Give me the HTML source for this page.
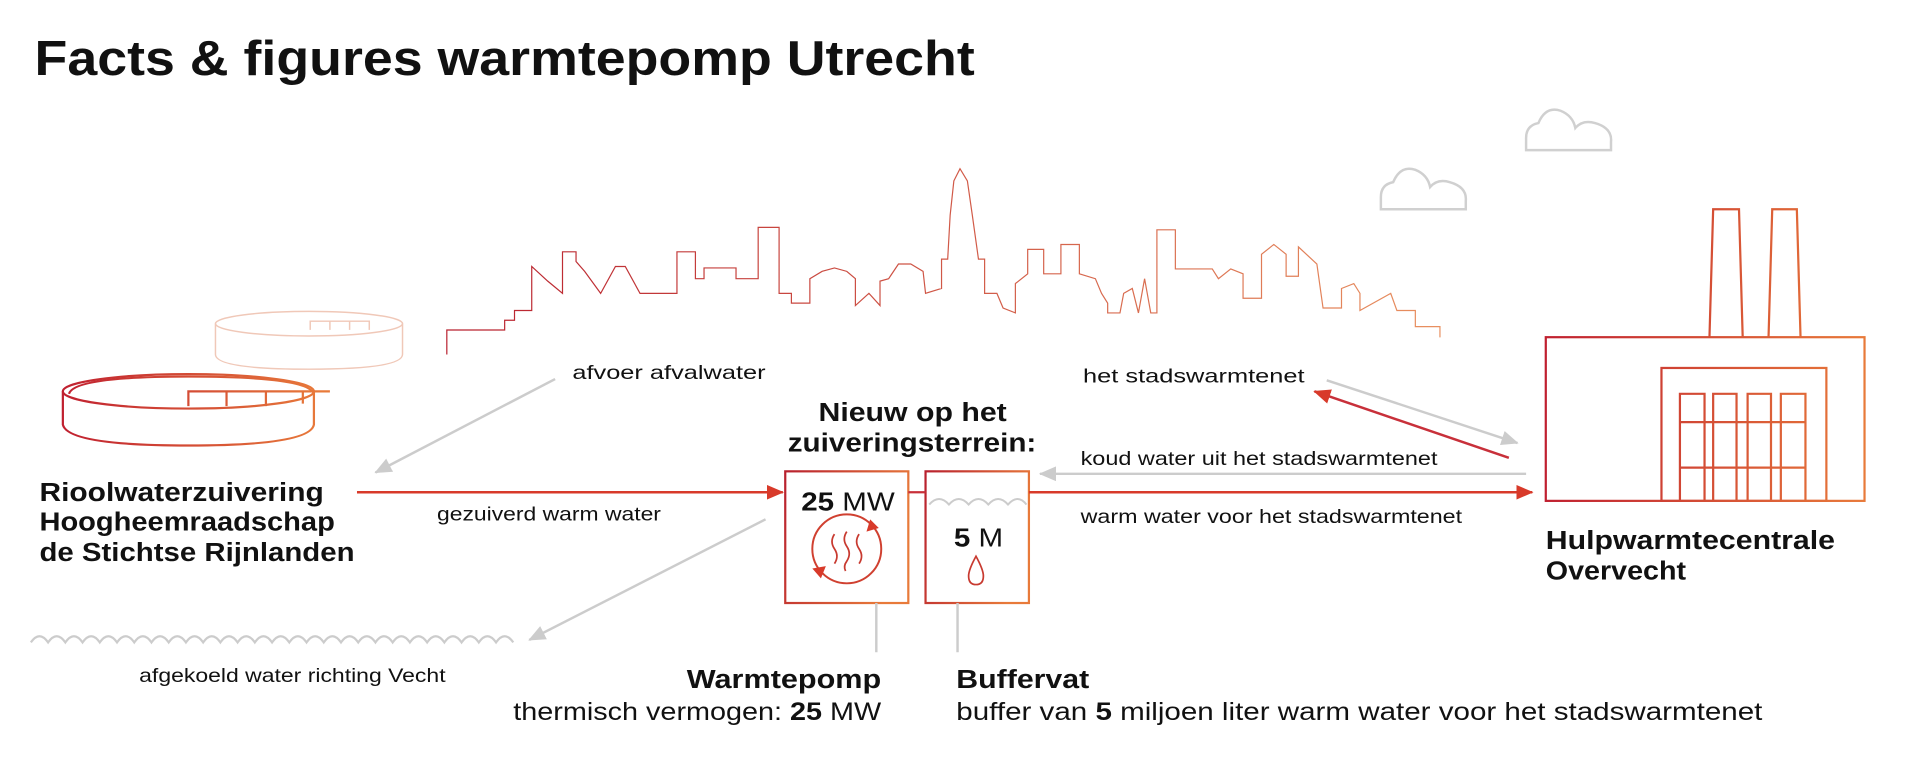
<!DOCTYPE html>
<html><head><meta charset="utf-8"><style>
html,body{margin:0;padding:0;background:#fff;}
svg{display:block}
text{font-family:"Liberation Sans",sans-serif;fill:#111}
.b{font-weight:bold}
</style></head><body>
<svg width="1920" height="763" viewBox="0 0 1560 620" xmlns="http://www.w3.org/2000/svg">
<defs>
<linearGradient id="g" x1="0" y1="0" x2="1" y2="0.3"><stop offset="0" stop-color="#b8202e"/><stop offset="1" stop-color="#e87a3a"/></linearGradient>
<linearGradient id="gs" gradientUnits="userSpaceOnUse" x1="363" y1="0" x2="1170" y2="0"><stop offset="0" stop-color="#b8202e"/><stop offset="1" stop-color="#e89060"/></linearGradient>
<linearGradient id="gf" gradientUnits="userSpaceOnUse" x1="1256" y1="0" x2="1515" y2="0"><stop offset="0" stop-color="#c02030"/><stop offset="1" stop-color="#e87a3a"/></linearGradient>
<linearGradient id="gt" gradientUnits="userSpaceOnUse" x1="50" y1="0" x2="260" y2="0"><stop offset="0" stop-color="#c02030"/><stop offset="1" stop-color="#e87a3a"/></linearGradient>
<marker id="ag" markerWidth="14" markerHeight="12" refX="13" refY="6" orient="auto" markerUnits="userSpaceOnUse"><path d="M0,0 L14,6 L0,12z" fill="#ccc"/></marker>
<marker id="ar2" markerWidth="14" markerHeight="12" refX="13" refY="6" orient="auto" markerUnits="userSpaceOnUse"><path d="M0,0 L14,6 L0,12z" fill="#d83a2a"/></marker>
</defs>

<text x="28" y="61" class="b" font-size="40" textLength="764" lengthAdjust="spacingAndGlyphs">Facts &amp; figures warmtepomp Utrecht</text>

<!-- skyline -->
<g transform="scale(1,0.3973)">
<polyline fill="none" stroke="url(#gs)" stroke-width="1.2" vector-effect="non-scaling-stroke" points="363,725 363,675 410,675 410,655 418,655 418,635 432,635 432,545 445,575 457,600 457,515 468,515 468,535 475,555 488,600 500,545 508,545 520,600 550,600 550,515 565,515 565,570 572,570 572,548 598,548 598,570 616,570 616,465 633,465 633,600 643,600 643,620 658,620 658,570 668,555 678,548 688,555 695,570 695,625 706,600 715,625 715,575 722,570 730,540 740,540 750,555 752,600 765,590 765,530 770,530 772,440 775,370 780,345 786,370 790,440 795,530 800,530 800,600 810,600 815,630 825,640 825,580 835,560 835,510 848,510 848,560 862,560 862,500 877,500 877,560 890,570 895,600 900,620 900,640 910,640 913,600 920,590 925,640 930,570 935,640 940,640 940,470 955,470 955,550 985,550 990,570 1000,550 1010,560 1010,610 1025,610 1025,520 1035,500 1045,520 1045,565 1055,565 1055,505 1070,540 1075,630 1090,630 1090,590 1100,580 1105,600 1105,635 1130,600 1135,635 1150,635 1150,668 1170,668 1170,690"/>
</g>

<!-- clouds -->
<g fill="none" stroke="#d0d0d0" stroke-width="2">
<path d="M1122,170 L1122,160 Q1122,150 1132,148 Q1138,134 1150,138 Q1160,142 1162,152 Q1168,145 1178,148 Q1192,152 1191,163 L1191,170 Z"/>
<path d="M1240,122 L1240,112 Q1240,102 1250,100 Q1256,86 1268,90 Q1278,94 1280,104 Q1286,97 1296,100 Q1310,104 1309,115 L1309,122 Z"/>
</g>

<!-- ghost tank -->
<g fill="none" stroke="#f0c8b8" stroke-width="1.2">
<ellipse cx="251" cy="263" rx="76" ry="10"/>
<path d="M175,263 L175,288 Q175,300 251,300 Q327,300 327,288 L327,263"/>
<path d="M252,268 L252,261 L300,261 L300,268 M268,261 L268,268 M284,261 L284,268"/>
</g>

<!-- main tank -->
<g fill="none" stroke="url(#gt)" stroke-width="1.8">
<ellipse cx="153" cy="318" rx="102" ry="14"/>
<path d="M56,320 Q60,306 153,306 Q250,306 255,320"/>
<path d="M51,318 L51,345 Q55,362 153,362 Q252,362 255,345 L255,318"/>
<path d="M153,330 L153,318 L235,318 M184,318 L184,330 M216,318 L216,330 M246,318 L246,328 M235,318 L268,318"/>
</g>

<!-- left labels -->
<text x="32" y="407" class="b" font-size="21" textLength="231" lengthAdjust="spacingAndGlyphs">Rioolwaterzuivering</text>
<text x="32" y="431" class="b" font-size="21" textLength="240" lengthAdjust="spacingAndGlyphs">Hoogheemraadschap</text>
<text x="32" y="456" class="b" font-size="21" textLength="256" lengthAdjust="spacingAndGlyphs">de Stichtse Rijnlanden</text>

<line x1="290" y1="400" x2="636" y2="400" stroke="#d83a2a" stroke-width="2" marker-end="url(#ar2)"/>
<text x="355" y="423" font-size="16" textLength="182" lengthAdjust="spacingAndGlyphs">gezuiverd warm water</text>

<line x1="451" y1="308" x2="305" y2="384" stroke="#ccc" stroke-width="2" marker-end="url(#ag)"/>
<text x="465" y="308" font-size="16" textLength="157" lengthAdjust="spacingAndGlyphs">afvoer afvalwater</text>

<line x1="622" y1="422" x2="430" y2="520" stroke="#ccc" stroke-width="2" marker-end="url(#ag)"/>
<path d="M25,522 q7,-10 14,0 q7,-10 14,0 q7,-10 14,0 q7,-10 14,0 q7,-10 14,0 q7,-10 14,0 q7,-10 14,0 q7,-10 14,0 q7,-10 14,0 q7,-10 14,0 q7,-10 14,0 q7,-10 14,0 q7,-10 14,0 q7,-10 14,0 q7,-10 14,0 q7,-10 14,0 q7,-10 14,0 q7,-10 14,0 q7,-10 14,0 q7,-10 14,0 q7,-10 14,0 q7,-10 14,0 q7,-10 14,0 q7,-10 14,0 q7,-10 14,0 q7,-10 14,0 q7,-10 14,0 q7,-10 14,0" fill="none" stroke="#ccc" stroke-width="1.8"/>
<text x="113" y="554" font-size="16" textLength="249" lengthAdjust="spacingAndGlyphs">afgekoeld water richting Vecht</text>

<!-- center -->
<text x="665" y="342" class="b" font-size="21" textLength="153" lengthAdjust="spacingAndGlyphs">Nieuw op het</text>
<text x="640" y="367" class="b" font-size="21" textLength="202" lengthAdjust="spacingAndGlyphs">zuiveringsterrein:</text>

<rect x="638" y="383" width="100" height="107" fill="none" stroke="url(#g)" stroke-width="1.8"/>
<rect x="752" y="383" width="84" height="107" fill="none" stroke="url(#g)" stroke-width="1.8"/>
<line x1="738" y1="400" x2="752" y2="400" stroke="#c8303a" stroke-width="1.8"/>
<text x="651" y="415" font-size="21" textLength="76" lengthAdjust="spacingAndGlyphs"><tspan class="b">25</tspan> MW</text>
<circle cx="688" cy="446" r="28" fill="none" stroke="#d04030" stroke-width="1.6"/>
<path d="M707,422 L714,429 L704,432z M667,470 L660,462 L671,460z" fill="#d83a2a"/>
<g fill="none" stroke="#c83a30" stroke-width="1.4">
<path d="M678,434 q-4,6 0,12 q4,6 0,12"/><path d="M688,432 q-4,6 0,12 q4,6 0,12 q-3,4 -1,8"/><path d="M698,434 q-4,6 0,12 q4,6 0,12"/>
</g>
<path d="M755,410 q8,-9 16,0 q8,-9 16,0 q8,-9 16,0 q8,-9 16,0 q8,-9 15,0" fill="none" stroke="#ccc" stroke-width="1.6"/>
<text x="775" y="444" font-size="21" textLength="40" lengthAdjust="spacingAndGlyphs"><tspan class="b">5</tspan> M</text>
<path d="M793,452 Q787,463 787,468 Q787,475 793,475 Q799,475 799,468 Q799,463 793,452z" fill="none" stroke="#c83a30" stroke-width="1.4"/>

<line x1="712" y1="490" x2="712" y2="530" stroke="#ccc" stroke-width="2"/>
<line x1="778" y1="490" x2="778" y2="530" stroke="#ccc" stroke-width="2"/>
<text x="558" y="559" class="b" font-size="21" textLength="158" lengthAdjust="spacingAndGlyphs">Warmtepomp</text>
<text x="417" y="585" font-size="20" textLength="299" lengthAdjust="spacingAndGlyphs">thermisch vermogen: <tspan class="b">25</tspan> MW</text>
<text x="777" y="559" class="b" font-size="21" textLength="108" lengthAdjust="spacingAndGlyphs">Buffervat</text>
<text x="777" y="585" font-size="20" textLength="655" lengthAdjust="spacingAndGlyphs">buffer van <tspan class="b">5</tspan> miljoen liter warm water voor het stadswarmtenet</text>

<!-- right arrows -->
<line x1="836" y1="400" x2="1245" y2="400" stroke="#d83a2a" stroke-width="2" marker-end="url(#ar2)"/>
<line x1="1240" y1="385" x2="845" y2="385" stroke="#ccc" stroke-width="2" marker-end="url(#ag)"/>
<text x="878" y="378" font-size="16" textLength="290" lengthAdjust="spacingAndGlyphs">koud water uit het stadswarmtenet</text>
<text x="878" y="425" font-size="16" textLength="310" lengthAdjust="spacingAndGlyphs">warm water voor het stadswarmtenet</text>
<text x="880" y="311" font-size="16" textLength="180" lengthAdjust="spacingAndGlyphs">het stadswarmtenet</text>
<line x1="1078" y1="309" x2="1233" y2="360" stroke="#ccc" stroke-width="2" marker-end="url(#ag)"/>
<line x1="1226" y1="372" x2="1068" y2="318" stroke="#c8303a" stroke-width="2" marker-end="url(#ar2)"/>

<!-- factory -->
<g fill="none" stroke="url(#gf)" stroke-width="1.8">
<path d="M1389,274 L1392,170 L1413,170 L1416,274"/>
<path d="M1437,274 L1440,170 L1460,170 L1463,274"/>
<rect x="1256" y="274" width="259" height="133"/>
<rect x="1350" y="299" width="134" height="108"/>
<path d="M1365,407 V320 H1385 V407 M1392,407 V320 H1411 V407 M1420,407 V320 H1439 V407 M1447,407 V320 H1467 V407"/>
<path d="M1365,343 H1467 M1365,380 H1467"/>
</g>
<text x="1256" y="446" class="b" font-size="21" textLength="235" lengthAdjust="spacingAndGlyphs">Hulpwarmtecentrale</text>
<text x="1256" y="471" class="b" font-size="21" textLength="114" lengthAdjust="spacingAndGlyphs">Overvecht</text>
</svg>
</body></html>
